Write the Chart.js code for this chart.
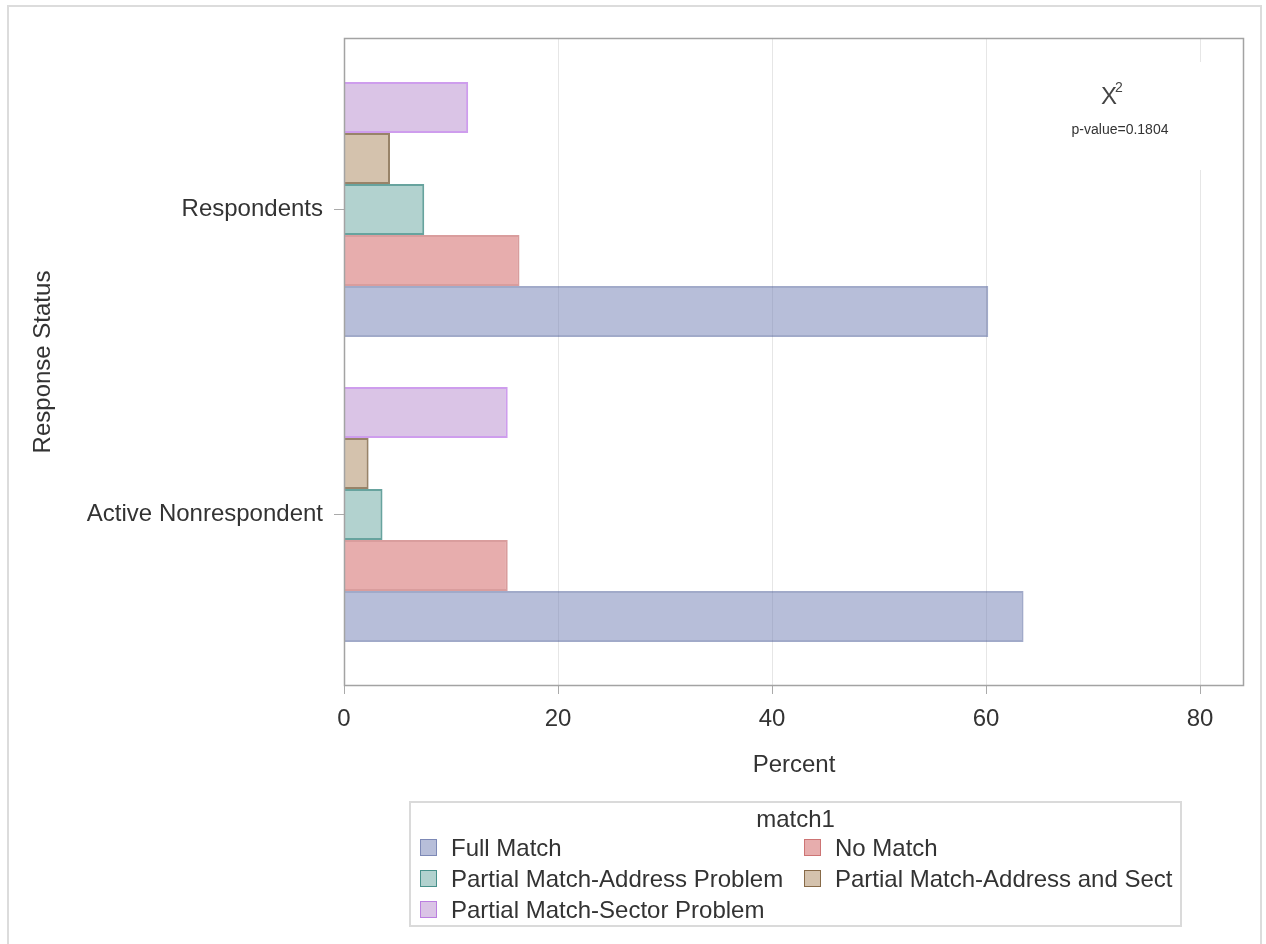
<!DOCTYPE html>
<html>
<head>
<meta charset="utf-8">
<title>Response Status by match1</title>
<script src="https://cdn.jsdelivr.net/npm/chart.js@4.4.1/dist/chart.umd.min.js"></script>
<style>
  body { margin: 0; background: #fff; font-family: 'Liberation Sans', Arial, sans-serif; }
  .page { position: absolute; left: 7px; top: 5px; width: 1255px; height: 960px; border: 2px solid #dcdcdc; box-sizing: border-box; }
  #chart { position: absolute; left: 0; top: 0; }
  .legend { position: absolute; left: 409px; top: 801px; width: 773px; height: 126px; border: 2px solid #dadada; box-sizing: border-box; color: #333; font-size: 24px; }
  .legend .title { position: absolute; left: 0; right: 0; top: 2px; text-align: center; line-height: 28px; }
  .legend .item { position: absolute; height: 28px; line-height: 28px; white-space: nowrap; }
  .legend .box { position: absolute; left: 0; top: 5px; width: 17px; height: 17px; box-sizing: border-box; border: 1px solid; }
  .legend .item span { position: absolute; left: 31px; }
</style>
</head>
<body>
<div class="page"></div>
<canvas id="chart" width="1266" height="944"></canvas>
<div class="legend" id="legend"><div class="title">match1</div></div>

<script>
// data
const categories = ['Respondents', 'Active Nonrespondent'];
const seriesNames = ['Full Match', 'No Match', 'Partial Match-Address Problem', 'Partial Match-Address and Sect', 'Partial Match-Sector Problem'];
const fullMatch = [60.2, 63.5];
const noMatch = [16.4, 15.3];
const addressProblem = [7.5, 3.6];
const addressAndSect = [4.3, 2.3];
const sectorProblem = [11.6, 15.3];
const xTicks = [0, 20, 40, 60, 80];
const xMax = 84.1;
const chiLabel = 'p-value=0.1804';

// styles
const fills = ['rgba(111,126,179,0.5)', 'rgba(208,91,91,0.5)', 'rgba(102,165,160,0.5)', 'rgba(169,134,91,0.5)', 'rgba(182,137,205,0.5)'];
const lines = ['rgba(68,86,148,0.5)', 'rgba(180,60,60,0.5)', 'rgba(1,102,94,0.6)', 'rgba(84,48,5,0.6)', 'rgba(157,60,219,0.5)'];

const values = [fullMatch, noMatch, addressProblem, addressAndSect, sectorProblem];

// bars are stacked top to bottom in reverse legend order
let datasets = [];
for (let i = values.length - 1; i >= 0; i--) {
  datasets.push({
    label: seriesNames[i],
    data: values[i],
    backgroundColor: fills[i],
    borderColor: lines[i],
    borderWidth: 2
  });
}

// legend, two columns
let legend = document.getElementById('legend');
seriesNames.forEach((name, i) => {
  let item = document.createElement('div');
  item.className = 'item';
  item.style.left = (i % 2 == 0 ? 9 : 393) + 'px';
  item.style.top = (31 + Math.floor(i / 2) * 31) + 'px';
  item.innerHTML = '<div class="box"></div><span></span>';
  item.querySelector('.box').style.background = fills[i];
  item.querySelector('.box').style.borderColor = lines[i];
  item.querySelector('span').textContent = name;
  legend.appendChild(item);
});

// frame, chi-square note, axis titles
const extras = {
  id: 'extras',
  beforeDatasetsDraw(chart) {
    const a = chart.chartArea;
    const ctx = chart.ctx;
    ctx.save();
    ctx.fillStyle = '#fff';
    ctx.fillRect(a.right - 240, a.top + 24, 226, 108);
    ctx.restore();
  },
  afterDatasetsDraw(chart) {
    const a = chart.chartArea;
    const ctx = chart.ctx;
    ctx.save();
    ctx.strokeStyle = '#a3a3a3';
    ctx.lineWidth = 1.5;
    ctx.strokeRect(a.left + 0.5, a.top + 0.5, a.right - a.left - 1, a.bottom - a.top - 1);

    ctx.fillStyle = '#444';
    ctx.textAlign = 'center';
    ctx.textBaseline = 'middle';
    ctx.font = '24px "Liberation Sans", Arial';
    ctx.fillText('\u03a7', a.right - 135, a.top + 59);
    ctx.textAlign = 'left';
    ctx.font = '14px "Liberation Sans", Arial';
    ctx.fillText('2', a.right - 129, a.top + 50);
    ctx.textAlign = 'center';
    ctx.fillStyle = '#333';
    ctx.fillText(chiLabel, a.right - 124, a.top + 92);

    ctx.font = '24px "Liberation Sans", Arial';
    ctx.fillText('Percent', (a.left + a.right) / 2, 765);
    ctx.translate(43, (a.top + a.bottom) / 2);
    ctx.rotate(-Math.PI / 2);
    ctx.fillText('Response Status', 0, 0);
    ctx.restore();
  }
};

Chart.defaults.font.family = '"Liberation Sans", Arial, sans-serif';
Chart.defaults.font.size = 24;
Chart.defaults.color = '#333';

new Chart(document.getElementById('chart'), {
  type: 'bar',
  data: { labels: categories, datasets: datasets },
  plugins: [extras],
  options: {
    indexAxis: 'y',
    responsive: false,
    animation: false,
    categoryPercentage: 0.836,
    barPercentage: 1,
    layout: { padding: { left: 0, top: 38, right: 22, bottom: 0 } },
    plugins: { legend: { display: false }, tooltip: { enabled: false } },
    scales: {
      x: {
        min: 0,
        max: xMax,
        afterBuildTicks: (s) => { s.ticks = xTicks.map(v => ({ value: v })); },
        afterFit: (s) => { s.height = 258; },
        border: { display: false },
        grid: { color: '#e6e6e6', lineWidth: 1, tickLength: 8, tickColor: '#aaa' },
        ticks: { padding: 11, color: '#333', maxRotation: 0 }
      },
      y: {
        // leave a little more room above and below the two groups than the default offset
        afterBuildTicks: (s) => { s._startValue = -0.5623; s._valueRange = 2.1246; },
        afterFit: (s) => { s.width = 344; },
        border: { display: false },
        grid: { offset: false, drawOnChartArea: false, tickLength: 10, tickColor: '#aaa' },
        ticks: { padding: 11, color: '#333' }
      }
    }
  }
});
</script>
</body>
</html>
